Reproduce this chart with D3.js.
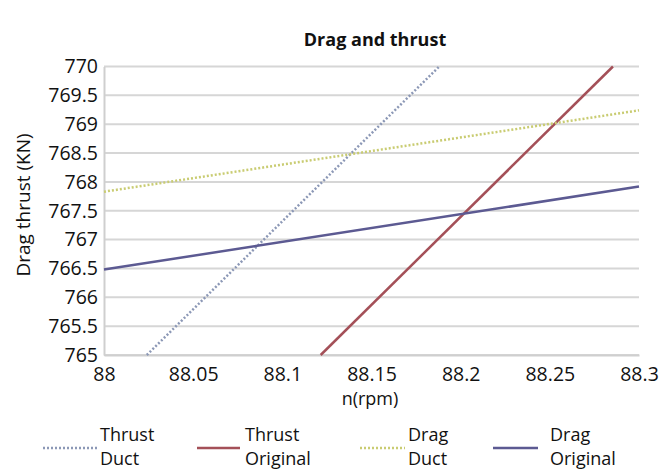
<!DOCTYPE html>
<html>
<head>
<meta charset="utf-8">
<script src="https://cdn.jsdelivr.net/npm/d3@7"></script>
<style>
  html, body { margin: 0; padding: 0; background: #fff; }
  svg { display: block; font-family: "Open Sans", "Noto Sans", sans-serif; }
</style>
</head>
<body>
<svg id="chart" width="667" height="472"></svg>
<script>
// Axis ticks
const xTicks = [88, 88.05, 88.1, 88.15, 88.2, 88.25, 88.3];
const yTicks = [765, 765.5, 766, 766.5, 767, 767.5, 768, 768.5, 769, 769.5, 770];

// Series: shaft speed n (rpm) and force (KN)
const thrustDuctN = [88.024, 88.188];
const thrustDuctF = [765, 770];
const thrustOrigN = [88.1215, 88.2854];
const thrustOrigF = [765, 770];
const dragDuctN = [88, 88.3];
const dragDuctF = [767.83, 769.24];
const dragOrigN = [88, 88.3];
const dragOrigF = [766.48, 767.92];

const seriesNames = [["Thrust", "Duct"], ["Thrust", "Original"], ["Drag", "Duct"], ["Drag", "Original"]];

const series = [
  { name: seriesNames[0], n: thrustDuctN, f: thrustDuctF, color: "#8c98b6", dash: "2,2", width: 2.5 },
  { name: seriesNames[1], n: thrustOrigN, f: thrustOrigF, color: "#a45058", dash: null, width: 2.5 },
  { name: seriesNames[2], n: dragDuctN, f: dragDuctF, color: "#c9cc72", dash: "2,2", width: 2.5 },
  { name: seriesNames[3], n: dragOrigN, f: dragOrigF, color: "#5c5a92", dash: null, width: 2.5 }
];

const svg = d3.select("#chart");
const plot = { left: 104, right: 639, top: 66.5, bottom: 355 };

const x = d3.scaleLinear().domain([88, 88.3]).range([plot.left, plot.right]);
const y = d3.scaleLinear().domain([765, 770]).range([plot.bottom, plot.top]);

// Title
svg.append("text")
  .attr("x", 375).attr("y", 46)
  .attr("text-anchor", "middle")
  .attr("font-size", 18).attr("font-weight", "bold")
  .attr("fill", "#111")
  .text("Drag and thrust");

// Horizontal gridlines
svg.append("g")
  .selectAll("line")
  .data(yTicks)
  .join("line")
  .attr("x1", plot.left).attr("x2", plot.right)
  .attr("y1", d => y(d)).attr("y2", d => y(d))
  .attr("stroke", "#d6d6d6").attr("stroke-width", 2);

// Y axis
const yAxis = svg.append("g")
  .attr("transform", `translate(${plot.left},0)`)
  .call(d3.axisLeft(y).tickValues(yTicks).tickSize(0).tickPadding(6).tickFormat(d3.format("")));
yAxis.select(".domain").attr("stroke", "#cfcfcf").attr("stroke-width", 2);
yAxis.selectAll("text").attr("font-size", 19.5).attr("fill", "#111").attr("font-family", "Open Sans, sans-serif");

// X axis
const xAxis = svg.append("g")
  .attr("transform", `translate(0,${plot.bottom})`)
  .call(d3.axisBottom(x).tickValues(xTicks).tickSize(0).tickPadding(12).tickFormat(d3.format("")));
xAxis.select(".domain").attr("stroke", "#cfcfcf").attr("stroke-width", 2);
xAxis.selectAll("text").attr("font-size", 19.5).attr("fill", "#111").attr("font-family", "Open Sans, sans-serif");

// Axis titles
svg.append("text")
  .attr("transform", "translate(30,205) rotate(-90)")
  .attr("text-anchor", "middle")
  .attr("font-size", 19).attr("fill", "#111")
  .text("Drag thrust (KN)");

svg.append("text")
  .attr("x", 370).attr("y", 405)
  .attr("text-anchor", "middle")
  .attr("font-size", 18).attr("fill", "#111")
  .text("n(rpm)");

// Lines
const line = d3.line().x(d => x(d[0])).y(d => y(d[1]));
svg.append("g")
  .selectAll("path")
  .data(series)
  .join("path")
  .attr("d", s => line(d3.zip(s.n, s.f)))
  .attr("fill", "none")
  .attr("stroke", s => s.color)
  .attr("stroke-width", s => s.width)
  .attr("stroke-dasharray", s => s.dash);

// Legend
const legendPos = [
  { x1: 43, x2: 97, tx: 100 },
  { x1: 197, x2: 240, tx: 245 },
  { x1: 360, x2: 405, tx: 408 },
  { x1: 493, x2: 538, tx: 550 }
];
const legend = svg.append("g");
series.forEach((s, i) => {
  const p = legendPos[i];
  legend.append("line")
    .attr("x1", p.x1).attr("x2", p.x2)
    .attr("y1", 448).attr("y2", 448)
    .attr("stroke", s.color).attr("stroke-width", s.width)
    .attr("stroke-dasharray", s.dash);
  const t = legend.append("text")
    .attr("font-size", 18).attr("fill", "#111");
  t.append("tspan").attr("x", p.tx).attr("y", 441).text(s.name[0]);
  t.append("tspan").attr("x", p.tx).attr("y", 465).text(s.name[1]);
});
</script>
</body>
</html>
